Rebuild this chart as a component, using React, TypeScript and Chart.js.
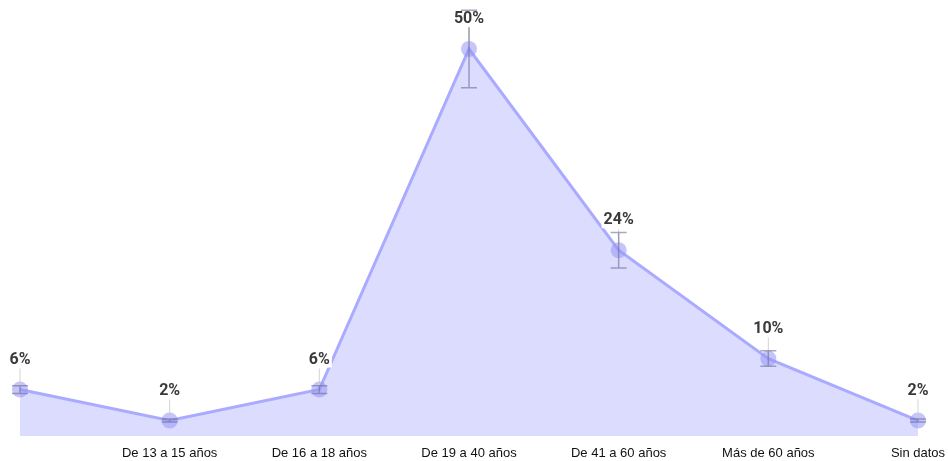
import React, { useEffect, useRef } from "react";
import { Chart, registerables } from "chart.js";

Chart.register(...registerables);

const categories = [
  "Hasta 12 años",
  "De 13 a 15 años",
  "De 16 a 18 años",
  "De 19 a 40 años",
  "De 41 a 60 años",
  "Más de 60 años",
  "Sin datos",
];
const values = [6, 2, 6, 50, 24, 10, 2];
const errLow = [0.5, 0.2, 0.5, 5, 2.3, 1, 0.2];
const errHigh = [0.5, 0.2, 0.5, 5, 2.3, 1, 0.2];

const errorBarPlugin = {
  id: "errorBars",
  afterDatasetsDraw(chart: any) {
    const ctx = chart.ctx;
    const meta = chart.getDatasetMeta(0);
    const y = chart.scales.y;
    ctx.save();
    meta.data.forEach((pt: any, i: number) => {
      const x = pt.x;
      const py = pt.y;
      // leader line from label to point
      ctx.strokeStyle = "rgba(200,200,200,0.8)";
      ctx.lineWidth = 1;
      ctx.beginPath();
      ctx.moveTo(x, py - 21);
      ctx.lineTo(x, py - 5);
      ctx.stroke();
      // error bar
      const top = y.getPixelForValue(values[i] + errHigh[i]);
      const bot = y.getPixelForValue(values[i] - errLow[i]);
      ctx.strokeStyle = "rgba(110,110,150,0.6)";
      ctx.lineWidth = 1.5;
      ctx.beginPath();
      ctx.moveTo(x, top);
      ctx.lineTo(x, bot);
      ctx.moveTo(x - 8, top);
      ctx.lineTo(x + 8, top);
      ctx.moveTo(x - 8, bot);
      ctx.lineTo(x + 8, bot);
      ctx.stroke();
    });
    // labels
    ctx.font = "bold 16px Roboto";
    ctx.textAlign = "center";
    ctx.textBaseline = "middle";
    meta.data.forEach((pt: any, i: number) => {
      const text = values[i] + "%";
      const w = ctx.measureText(text).width;
      const ly = pt.y - 30;
      ctx.fillStyle = "#ffffff";
      ctx.fillRect(pt.x - w / 2 - 2, ly - 8, w + 4, 16);
      ctx.fillStyle = "#3a3a3a";
      ctx.fillText(text, pt.x, ly);
    });
    ctx.restore();
  },
};

export default function App() {
  const ref = useRef<HTMLCanvasElement | null>(null);
  useEffect(() => {
    if (!ref.current) return;
    const chart = new Chart(ref.current, {
      type: "line",
      data: {
        labels: categories,
        datasets: [
          {
            data: values,
            borderColor: "rgba(170,170,255,1)",
            backgroundColor: "rgba(220,220,255,1)",
            fill: "origin",
            borderWidth: 3,
            tension: 0,
            pointRadius: 8,
            pointBorderWidth: 0,
            pointBackgroundColor: "rgba(150,150,245,0.55)",
            pointHoverRadius: 8,
          },
        ],
      },
      options: {
        animation: false,
        responsive: true,
        maintainAspectRatio: false,
        layout: { padding: { left: 20, right: 30, top: 0, bottom: 0 } },
        plugins: { legend: { display: false }, tooltip: { enabled: false } },
        scales: {
          x: {
            grid: { display: false, drawTicks: false },
            border: { display: false },
            afterFit: (scale: any) => {
              scale.height = 25;
              scale.paddingLeft = 0;
              scale.paddingRight = 0;
            },
            ticks: {
              padding: 10,
              color: "#111",
              font: { size: 13, family: "'Liberation Sans', Arial, sans-serif" },
              maxRotation: 0,
              autoSkip: false,
              callback: (_v: any, i: number) => (i === 0 ? "" : categories[i]),
            },
          },
          y: { display: false, min: 0, max: 55.3 },
        },
      },
      plugins: [errorBarPlugin],
    });
    return () => chart.destroy();
  }, []);
  return (
    <div style={{ position: "fixed", left: 0, top: 0, width: 948, height: 461 }}>
      <canvas ref={ref} />
    </div>
  );
}
